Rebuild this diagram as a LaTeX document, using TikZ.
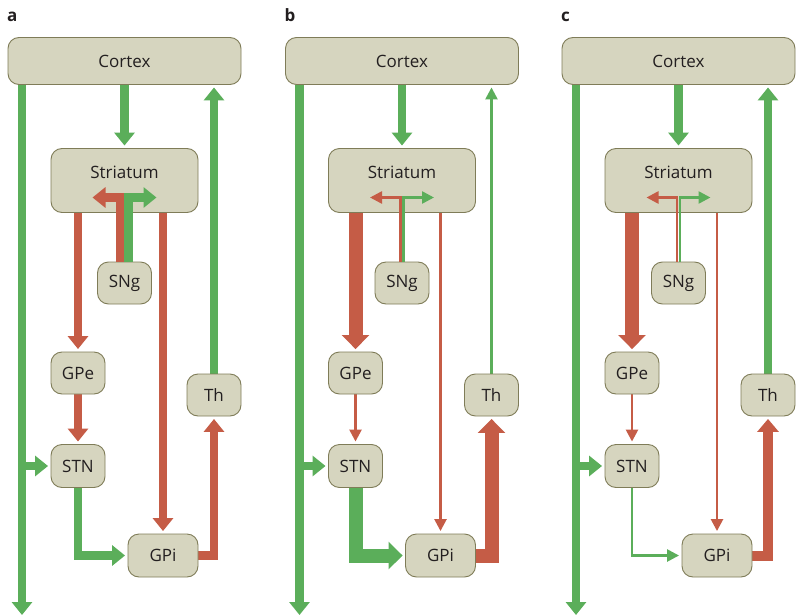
\documentclass[tikz,border=0pt]{standalone}
\usepackage{fontspec}
\setmainfont{Open Sans}
\usetikzlibrary{arrows.meta,backgrounds}
\definecolor{gr}{HTML}{5BAE5A}
\definecolor{rd}{HTML}{C55C46}
\definecolor{boxfill}{HTML}{D6D5BF}
\definecolor{boxline}{HTML}{7F7C58}
\definecolor{txt}{HTML}{231F20}
\tikzset{
  box/.style={draw=boxline, fill=boxfill, line width=0.9pt, rounded corners=11pt, inner sep=0pt, text=txt, font=\fontsize{17}{20}\selectfont},
  boxtext/.style={inner sep=0pt, text=txt, font=\fontsize{17}{20}\selectfont},
  sw/.style={line width=8.5pt, -{Triangle[width=20pt,length=13pt]}},
  mw/.style={line width=10pt, -{Triangle[width=21pt,length=13pt]}},
  tw/.style={line width=2.5pt, -{Triangle[width=12pt,length=12pt]}},
  xw/.style={line width=14pt, -{Triangle[width=27pt,length=14pt]}},
  conn/.style={shorten >=2.5pt, line join=miter},
  lab/.style={font=\fontsize{17}{20}\selectfont\bfseries, text=txt, anchor=base west, inner sep=0pt},
}
% #1 panel letter, #2 xshift, #3 Th->Cortex, #4 Str->GPe, #5 Str->GPi,
% #6 GPe->STN, #7 STN->GPi, #8 GPi->Th, #9 SNg arrows
\newcommand\drawpanel[9]{%
\begin{scope}[xshift=#2]
  \node[lab] (lab#1) at (7,21) {#1};
  \node[box, minimum width=233pt, minimum height=47pt] (ctx#1) at (124.5,61) {Cortex};
  \node[box, minimum width=147pt, minimum height=64pt] (str#1) at (124.5,180.5) {};
  \node[boxtext] (strt#1) at (124.5,172) {Striatum};
  \node[box, minimum width=54pt, minimum height=42pt] (sng#1) at (124.5,283) {SNg};
  \node[box, minimum width=54pt, minimum height=42pt] (gpe#1) at (78,373) {GPe};
  \node[box, minimum width=54pt, minimum height=43pt] (stn#1) at (78,466) {STN};
  \node[box, minimum width=70pt, minimum height=43pt] (gpi#1) at (163,555.5) {GPi};
  \node[box, minimum width=54pt, minimum height=42pt] (th#1) at (214,395) {Th};
  \coordinate (lbot#1) at (22,615);
  \coordinate (sl#1) at (92.5,197.5);
  \coordinate (sr#1) at (156.5,197.5);
  \coordinate (rv#1) at (124.5-\snoff,262);
  \coordinate (gv#1) at (124.5+\snoff,262);
  \begin{scope}[on background layer]
    \draw[gr, sw, conn] (ctx#1.south -| str#1.north) -- (str#1.north);
    \draw[gr, conn, #3] (th#1.north) -- (th#1.north |- ctx#1.south);
    \draw[rd, conn, #4] (str#1.south -| gpe#1.north) -- (gpe#1.north);
    \draw[rd, conn, #5] (str#1.south -| gpi#1.north) -- (gpi#1.north);
    \draw[rd, conn, #6] (gpe#1.south) -- (stn#1.north);
    \draw[gr, conn, #7] (stn#1.south) |- (gpi#1.west);
    \draw[rd, conn, #8] (gpi#1.east) -| (th#1.south);
    \draw[gr, sw, line join=miter] (ctx#1.south -| lbot#1) -- (lbot#1);
    \draw[gr, sw, conn] (lbot#1 |- stn#1.west) -- (stn#1.west);
  \end{scope}
  \draw[rd, #9, line join=miter] (sng#1.north -| rv#1) |- (sl#1);
  \draw[gr, #9, line join=miter] (sng#1.north -| gv#1) |- (sr#1);
\end{scope}}
\begin{document}
\begin{tikzpicture}[x=1pt,y=-1pt]
  \useasboundingbox (0,0) rectangle (796,616);
  \def\snoff{4.2}
  \drawpanel{a}{0}{sw}{sw}{sw}{sw}{sw}{sw}{sw}
  \def\snoff{1.3}
  \drawpanel{b}{277.5}{tw}{xw}{tw}{tw}{xw}{xw}{tw}
  \drawpanel{c}{554}{sw}{xw}{tw}{tw}{tw}{mw}{tw}
\end{tikzpicture}
\end{document}
